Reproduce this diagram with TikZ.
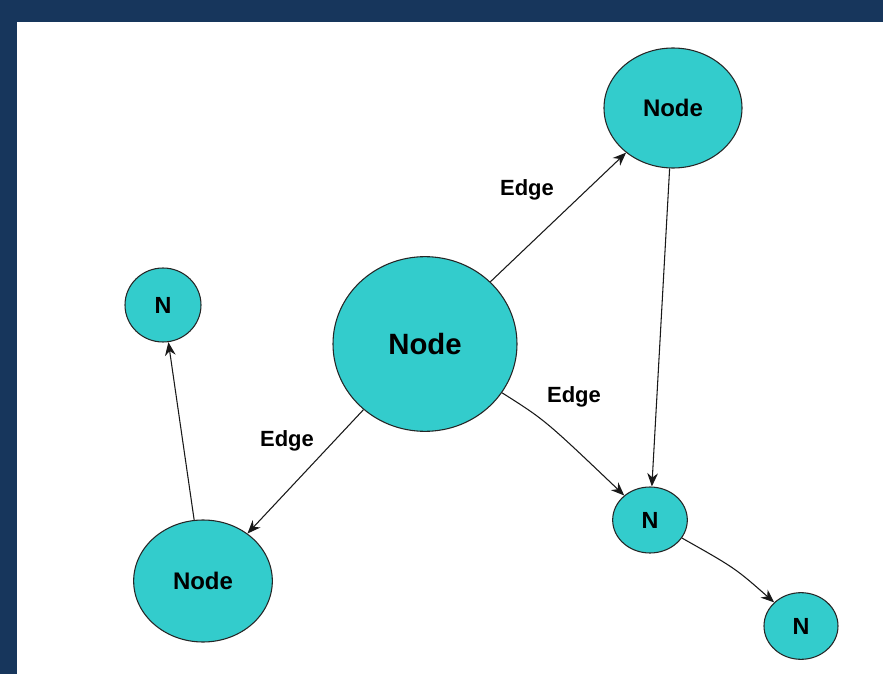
\documentclass[tikz,border=0pt]{standalone}
\usepackage{fontspec}
\setmainfont{Liberation Sans}
\usetikzlibrary{arrows.meta,positioning,shapes.geometric}

\definecolor{frameblue}{HTML}{17365C}
\definecolor{nodecyan}{HTML}{33CCCC}

\begin{document}
\begin{tikzpicture}
    [x=0.75pt,y=-0.75pt,
    vertex/.style={ellipse,draw=black!85,fill=nodecyan,line width=0.8pt,
    inner sep=0pt,font=\bfseries\fontsize{18}{20}\selectfont},
    leaf/.style={vertex,font=\bfseries\fontsize{17.5}{19}\selectfont},
    edgelabel/.style={font=\bfseries\fontsize{16.5}{18}\selectfont},
    link/.style={draw=black!90,line width=0.8pt,-{Stealth[length=10pt,width=8pt]}}]
    \useasboundingbox (0,0) rectangle (883,674);
    \fill[frameblue] (0,0) rectangle (883,674);
    \fill[white] (17,22) rectangle (883,674);
    \node[vertex,minimum width=138pt,minimum height=131pt,
      font=\bfseries\fontsize{22}{24}\selectfont] (hub) at (425,344) {Node};
    \node[vertex,minimum width=103.5pt,minimum height=90pt] (upper) at (673,108) {Node};
    \node[vertex,minimum width=104pt,minimum height=91.5pt] (lower) at (203,581) {Node};
    \node[leaf,minimum width=57pt,minimum height=55.5pt] (tip) at (163,305) {N};
    \node[leaf,minimum width=56pt,minimum height=49.5pt] (mid) at (650,520) {N};
    \node[leaf,minimum width=55.5pt,minimum height=50pt] (end) at (801,626) {N};
    \node[edgelabel] (e upper) at (527,190) {Edge};
    \node[edgelabel] (e mid) at (574,397) {Edge};
    \node[edgelabel] (e lower) at (287,441) {Edge};
    \draw[link] (hub) -- (upper);
    \draw[link] (hub) .. controls (545,420) .. (mid);
    \draw[link] (upper) -- (mid);
    \draw[link] (hub) -- (lower);
    \draw[link] (lower) -- (tip);
    \draw[link] (mid) .. controls (735,568) .. (end);
\end{tikzpicture}
\end{document}
